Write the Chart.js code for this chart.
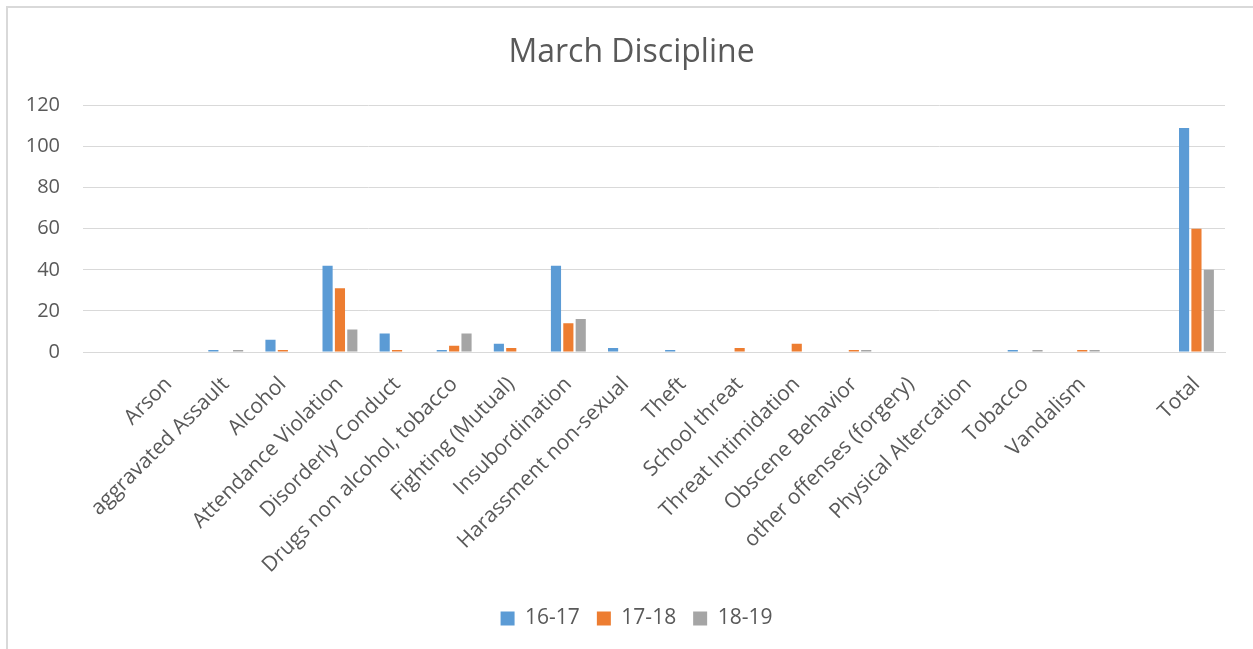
<!DOCTYPE html>
<html>
<head>
<meta charset="utf-8">
<script src="https://cdn.jsdelivr.net/npm/chart.js@4"></script>
<style>
  body { margin: 0; background: #fff; }
  #wrap { position: relative; width: 1253px; height: 649px; overflow: hidden; }
  #frame { position: absolute; left: 6px; top: 6px; width: 1270px; height: 670px;
           border: 2px solid #d9d9d9; pointer-events: none; }
</style>
</head>
<body>
<div id="wrap">
  <canvas id="chart" width="1253" height="649"></canvas>
  <div id="frame"></div>
</div>
<script>
// categories, with the two blank slots Excel left in the source range
const categories = ['', 'Arson', 'aggravated Assault', 'Alcohol', 'Attendance Violation',
  'Disorderly Conduct', 'Drugs non alcohol, tobacco', 'Fighting (Mutual)', 'Insubordination',
  'Harassment non-sexual', 'Theft', 'School threat', 'Threat Intimidation', 'Obscene Behavior',
  'other offenses (forgery)', 'Physical Altercation', 'Tobacco', 'Vandalism', '', 'Total'];

const y1617 = [0, 0, 1, 6, 42, 9, 1, 4, 42, 2, 1, 0, 0, 0, 0, 0, 1, 0, 0, 109];
const y1718 = [0, 0, 0, 1, 31, 1, 3, 2, 14, 0, 0, 2, 4, 1, 0, 0, 0, 1, 0, 60];
const y1819 = [0, 0, 1, 0, 11, 0, 9, 0, 16, 0, 0, 0, 0, 1, 0, 0, 1, 1, 0, 40];

const yTicks = [0, 20, 40, 60, 80, 100, 120];

const textColor = '#595959';
const gridColor = '#d9d9d9';
const font = 'Open Sans';

function bars(label, data, color) {
  return {
    label: label,
    data: data,
    backgroundColor: color,
    borderWidth: 0,
    categoryPercentage: 0.65,
    barPercentage: 0.82
  };
}

// title and legend are centred on the whole picture in the original, not on the plot
const centreShift = {
  id: 'centreShift',
  afterLayout(chart) {
    chart.titleBlock.left += 19;
    chart.titleBlock.right += 19;
    chart.legend.left += 24;
    chart.legend.right += 24;
  }
};

new Chart(document.getElementById('chart'), {
  type: 'bar',
  data: {
    labels: categories,
    datasets: [
      bars('16-17', y1617, '#5b9bd5'),
      bars('17-18', y1718, '#ed7d31'),
      bars('18-19', y1819, '#a5a5a5')
    ]
  },
  plugins: [centreShift],
  options: {
    responsive: false,
    animation: false,
    layout: { padding: { left: 0, right: 28, top: 0, bottom: 10 } },
    plugins: {
      title: {
        display: true,
        text: 'March Discipline',
        color: textColor,
        font: { family: font, size: 32, weight: 'normal' },
        padding: { top: 34, bottom: 33 }
      },
      legend: {
        position: 'bottom',
        labels: {
          color: textColor,
          font: { family: font, size: 21 },
          boxWidth: 14,
          boxHeight: 14,
          padding: 17
        }
      },
      tooltip: { enabled: false }
    },
    scales: {
      x: {
        grid: { display: false, drawTicks: false },
        border: { display: true, color: gridColor, width: 1 },
        ticks: {
          color: textColor,
          font: { family: font, size: 21 },
          autoSkip: false,
          minRotation: 45,
          maxRotation: 45,
          padding: 20
        },
        afterFit: function (scale) { scale.height = 239; }
      },
      y: {
        min: 0,
        max: 120,
        afterBuildTicks: function (scale) {
          scale.ticks = yTicks.map(v => ({ value: v }));
        },
        grid: { color: gridColor, lineWidth: 1, drawTicks: false },
        border: { display: false },
        ticks: {
          color: textColor,
          font: { family: font, size: 20 },
          padding: 23
        },
        afterFit: function (scale) { scale.width = 83; }
      }
    }
  }
});
</script>
</body>
</html>
